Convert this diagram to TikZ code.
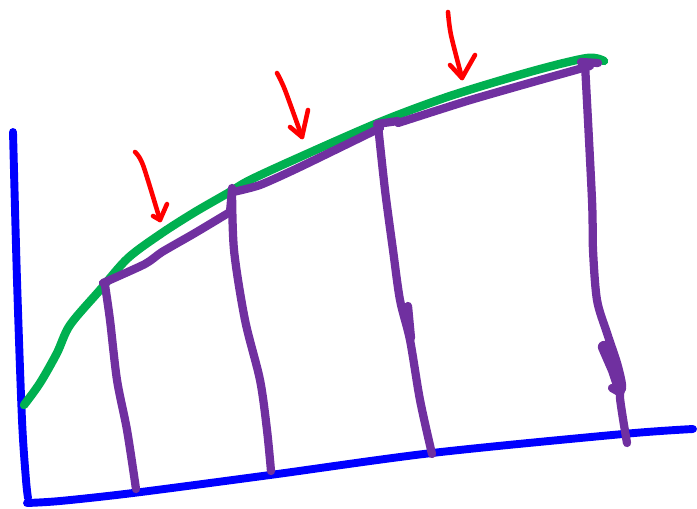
\documentclass[tikz,border=0pt]{standalone}
\usepackage{xcolor}
\definecolor{penblue}{RGB}{0,0,255}
\definecolor{pengreen}{RGB}{0,176,80}
\definecolor{penpurple}{RGB}{112,48,160}
\definecolor{penred}{RGB}{255,0,0}
\begin{document}
\begin{tikzpicture}[x=0.02cm, y=-0.02cm, line cap=round, line join=round,
        axisline/.style={penblue, line width=4.5pt},
        curveline/.style={pengreen, line width=4.8pt},
        chordline/.style={penpurple, line width=4.7pt},
        pushline/.style={penred, line width=2.6pt}]
    \useasboundingbox (0,0) rectangle (697,508);
    % Axes
    \draw[axisline] plot[smooth] coordinates {(13,132) (17,280) (22,420) (26,480) (28,498)};
    \draw[axisline] plot[smooth] coordinates {(27,503) (60,501) (133,493) (270,475) (432,453) (623,434) (693,429)};
    % Curve
    \draw[curveline] plot[smooth] coordinates {(24,405) (40,383) (57,353) (70,325) (100,290) (128,258) (162,233)
            (195,212) (228,193) (250,180) (300,157) (380,122) (450,96) (533,71) (587,58) (604,61)};
    % Chords
    \draw[chordline] plot[smooth, tension=0.4] coordinates {(103,283) (145,264) (162,252) (195,233) (230,212)};
    \draw[chordline] (230,212) -- (232,190);
    \draw[chordline] plot[smooth, tension=0.4] coordinates {(233,192) (260,185) (300,167) (380,128)};
    \draw[chordline] (377,124) -- (398,121);
    \draw[chordline] plot[smooth, tension=0.4] coordinates {(398,123) (467,101) (533,82) (590,66)};
    \draw[chordline] (581,62) -- (598,63);
    % Uprights
    \draw[chordline] plot[smooth] coordinates {(105,285) (110,320) (117,380) (127,430) (136,489)};
    \draw[chordline] plot[smooth] coordinates {(232,188) (234,250) (245,320) (260,380) (267,430) (271,471)};
    \draw[chordline] plot[smooth] coordinates {(378,125) (385,190) (393,250) (400,300) (410,340) (420,400) (432,454)};
    \draw[chordline] plot[smooth] coordinates {(585,64) (592,200) (593,250) (597,300) (607,333) (617,363) (622,385) (620,398) (627,443)};
    \draw[chordline] (408,306) -- (411,338);
    \draw[chordline, line width=7pt] (604,347) -- (614,370) -- (620,388);
    \draw[chordline] (612,388) -- (619,392);
    % Arrows
    \foreach \sx/\sy/\mx/\my/\tx/\ty/\lx/\ly/\rx/\ry in {135/152/143/165/160/220/153/216/167/204,
            277/73/285/90/302/137/290/127/308/110,
            448/12/451/35/462/78/450/65/475/55} {
            \draw[pushline] plot[smooth] coordinates {(\sx,\sy) (\mx,\my) (\tx,\ty)};
            \draw[pushline] (\lx,\ly) -- (\tx,\ty) -- (\rx,\ry);
        }
\end{tikzpicture}
\end{document}
